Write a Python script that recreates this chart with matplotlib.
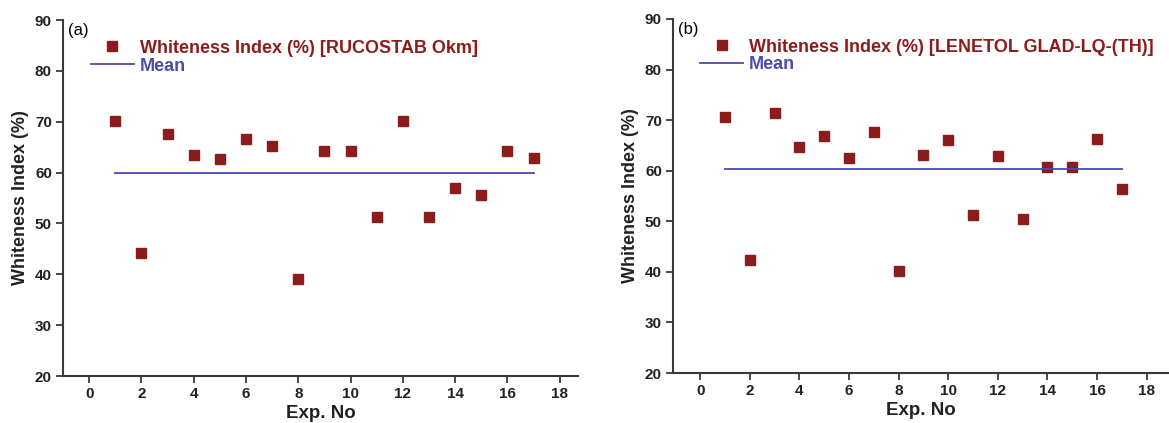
import matplotlib
matplotlib.use('Agg')
import matplotlib.pyplot as plt

plt.rcParams['font.family'] = ['Liberation Sans', 'DejaVu Sans']

exp_no = list(range(1, 18))
wi_rucostab = [70.2, 44.2, 67.6, 63.5, 62.7, 66.7, 65.3, 39.0, 64.3,
               64.2, 51.2, 70.2, 51.3, 56.9, 55.5, 64.2, 62.8]
wi_lenetol = [70.7, 42.3, 71.5, 64.6, 66.8, 62.5, 67.7, 40.2, 63.2,
              66.1, 51.3, 63.0, 50.4, 60.8, 60.7, 66.3, 56.3]
mean_rucostab = 60.0
mean_lenetol = 60.3

panels = [
    ('(a)', 'Whiteness Index (%) [RUCOSTAB Okm]', wi_rucostab, mean_rucostab,
     [0.0539, 0.1111, 0.4405, 0.8416], (-1.0, 18.7)),
    ('(b)', 'Whiteness Index (%) [LENETOL GLAD-LQ-(TH)]', wi_lenetol, mean_lenetol,
     [0.5757, 0.1182, 0.4243, 0.8370], (-1.1, 18.9)),
]

red = '#8b1c1c'
blue = '#4b4bb0'
axis_col = '#3a3a3a'

fig = plt.figure(figsize=(11.69, 4.23), dpi=100)

for tag, name, vals, mean, rect, xlim in panels:
    ax = fig.add_axes(rect)
    ax.plot(exp_no, vals, 's', color=red, markersize=6.5, linestyle='none', label=name)
    ax.plot([exp_no[0], exp_no[-1]], [mean, mean], '-', color=blue, lw=1.3, label='Mean')
    ax.set_xlim(*xlim)
    ax.set_ylim(20, 90)
    ax.set_xticks(range(0, 19, 2))
    ax.set_yticks(range(20, 91, 10))
    for s in ['top', 'right']:
        ax.spines[s].set_visible(False)
    for s in ['left', 'bottom']:
        ax.spines[s].set_color(axis_col)
        ax.spines[s].set_linewidth(1.5)
    ax.tick_params(direction='out', length=5, width=1.3, color=axis_col,
                   labelsize=11, pad=3)
    for lab in ax.get_xticklabels() + ax.get_yticklabels():
        lab.set_fontweight('bold')
        lab.set_color('#222222')
    ax.set_xlabel('Exp. No', fontsize=13.5, fontweight='bold', color='#222222', labelpad=3)
    ax.set_ylabel('Whiteness Index (%)', fontsize=13, fontweight='bold', color='#222222', labelpad=4)
    ax.text(0.01, 0.97, tag, transform=ax.transAxes, fontsize=12, va='center', ha='left')
    leg = ax.legend(loc='upper left', bbox_to_anchor=(0.04, 0.965), frameon=False,
                    prop={'weight': 'bold', 'size': 13}, handlelength=2.4,
                    handletextpad=0.3, labelspacing=0.05, borderaxespad=0,
                    labelcolor=[red, blue])

fig.savefig('out.png', dpi=100)
